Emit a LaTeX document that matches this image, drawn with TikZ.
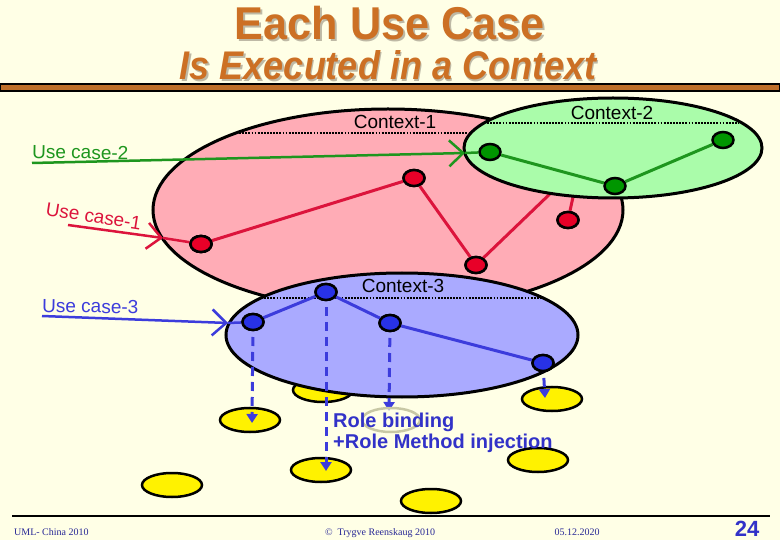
\documentclass[tikz,border=0pt]{standalone}
\usepackage{fontspec}
\setmainfont{Liberation Sans}
\newfontfamily\footserif{Liberation Serif}
\usetikzlibrary{arrows.meta,shapes.geometric}
\definecolor{bg}{RGB}{255,255,230}
\definecolor{titlec}{RGB}{204,112,36}
\definecolor{shadowc}{RGB}{190,185,165}
\definecolor{barc}{RGB}{190,110,40}
\definecolor{pinkc}{RGB}{255,172,182}
\definecolor{greenc}{RGB}{170,252,170}
\definecolor{bluec}{RGB}{170,170,255}
\definecolor{rednode}{RGB}{232,0,40}
\definecolor{redline}{RGB}{220,20,60}
\definecolor{greennode}{RGB}{0,150,0}
\definecolor{greenline}{RGB}{30,150,30}
\definecolor{bluenode}{RGB}{40,50,230}
\definecolor{blueline}{RGB}{60,60,220}
\definecolor{textblue}{RGB}{50,50,200}
\definecolor{footc}{RGB}{40,40,150}
\definecolor{fadec}{RGB}{200,200,165}
\begin{document}
\begin{tikzpicture}[x=1pt,y=-1pt,
  ctx/.style={ellipse, draw=black, line width=3pt, inner sep=0pt},
  role/.style={ellipse, draw=black, line width=2.5pt, inner sep=0pt, minimum width=21pt, minimum height=16pt},
  obj/.style={ellipse, draw=black, line width=2.5pt, fill=yellow, inner sep=0pt, minimum width=60pt, minimum height=24pt},
  dotline/.style={line width=2.6pt, dash pattern=on 1.8pt off 1.3pt},
  ctxlabel/.style={font=\fontsize{19}{22}\selectfont, inner sep=0pt},
  uclabel/.style={font=\fontsize{19}{22}\selectfont, anchor=base west, inner sep=0pt},
  ucarrow/.style={line width=2.5pt, -{Straight Barb[length=14pt,width=26pt]}},
  roleedge/.style={line width=3pt},
  bind/.style={draw=blueline, line width=3pt, dash pattern=on 9pt off 6pt, -{Triangle[length=9pt,width=11pt]}},
  foot/.style={font=\footserif\fontsize{10}{12}\selectfont, text=footc, inner sep=0pt, anchor=base},
]
\useasboundingbox (0,0) rectangle (780,540);
\fill[bg] (0,0) rectangle (780,540);

% title
\node[font=\bfseries\fontsize{46}{50}\selectfont, text=shadowc, xscale=0.94, anchor=base, inner sep=0pt] (t1s) at (391.5,41.5) {Each Use Case};
\node[font=\bfseries\fontsize{46}{50}\selectfont, text=titlec, xscale=0.94, anchor=base, inner sep=0pt] (t1) at (390,40) {Each Use Case};
\node[font=\bfseries\itshape\fontsize{40}{44}\selectfont, text=shadowc, xscale=0.9, anchor=base, inner sep=0pt] (t2s) at (389.5,81.5) {Is Executed in a Context};
\node[font=\bfseries\itshape\fontsize{40}{44}\selectfont, text=titlec, xscale=0.9, anchor=base, inner sep=0pt] (t2) at (388,80) {Is Executed in a Context};
\draw[fill=barc, draw=black, line width=1.5pt] (0,84) rectangle (780,91);

% objects (yellow)
\node[obj] (o1) at (250,420) {};
\node[obj] (o2) at (323,390) {};
\node[obj] (o4) at (321,470) {};
\node[obj] (o5) at (552,399) {};
\node[obj] (o6) at (538,460) {};
\node[obj] (o7) at (172,485) {};
\node[obj] (o8) at (431,501) {};

% Context-1
\node[ctx, fill=pinkc, minimum width=470pt, minimum height=202pt] (c1) at (388,210) {};
\draw[dotline] (236,133) -- (520,133);
\node[ctxlabel] (c1l) at (395,122) {Context-1};

% red roles
\coordinate (rh) at (580,165);
\node[role, fill=rednode] (r1) at (201,244) {};
\node[role, fill=rednode] (r2) at (414,178) {};
\node[role, fill=rednode] (r3) at (476,265) {};
\node[role, fill=rednode] (r4) at (568,220) {};
\draw[redline, roleedge] (r1) -- (r2);
\draw[redline, roleedge] (r2) -- (r3);
\draw[redline, roleedge] (r3) -- (rh);
\draw[redline, roleedge] (r4) -- (rh);
\node[role, fill=rednode] at (r1) {};
\node[role, fill=rednode] at (r2) {};
\node[role, fill=rednode] at (r3) {};
\node[role, fill=rednode] at (r4) {};

% Context-2
\node[ctx, fill=greenc, minimum width=298pt, minimum height=100pt] (c2) at (613,148) {};
\draw[dotline] (487,123) -- (739,123);
\node[ctxlabel] (c2l) at (612,113) {Context-2};
\node[role, fill=greennode] (g1) at (490,152) {};
\node[role, fill=greennode] (g2) at (615,186) {};
\node[role, fill=greennode] (g3) at (723,140) {};
\draw[greenline, roleedge] (g1) -- (g2);
\draw[greenline, roleedge] (g2) -- (g3);

% use case arrows
\coordinate (gs) at (32,163);
\coordinate (gt) at (465,153);
\draw[greenline, ucarrow] (gs) -- (gt);
\draw[greenline, line width=2.5pt] (gt) -- (g1);
\node[uclabel, text=greenline, rotate=-1] (uc2) at (32,158) {Use case-2};

\coordinate (rs) at (68,225);
\coordinate (rt) at (163,238);
\draw[redline, ucarrow] (rs) -- (rt);
\draw[redline, line width=2.5pt] (rt) -- (r1);
\node[role, fill=rednode] at (r1) {};
\node[uclabel, text=redline, rotate=-9] (uc1) at (45,215) {Use case-1};

% Context-3
\node[ctx, fill=bluec, minimum width=352pt, minimum height=124pt] (c3) at (402,335) {};
\draw[dotline] (261,298) -- (543,298);
\node[ctxlabel] (c3l) at (403,286) {Context-3};
\node[role, fill=bluenode] (b1) at (253,322) {};
\node[role, fill=bluenode] (b2) at (326,292) {};
\node[role, fill=bluenode] (b3) at (390,323) {};
\node[role, fill=bluenode] (b4) at (543,363) {};
\draw[blueline, roleedge] (b1) -- (b2);
\draw[blueline, roleedge] (b2) -- (b3);
\draw[blueline, roleedge] (b3) -- (b4);

\coordinate (bs) at (42,316);
\coordinate (bt) at (228,323);
\draw[blueline, ucarrow] (bs) -- (bt);
\draw[blueline, line width=2.5pt] (bt) -- (b1);
\node[uclabel, text=blueline, rotate=-1] (uc3) at (42,312) {Use case-3};

% role binding
\coordinate (d1) at (252,423);
\coordinate (d2) at (326,471);
\coordinate (d3) at (389,411);
\coordinate (d4) at (545,398);
\draw[bind] (b1.center) -- (d1);
\draw[bind] (b2.center) -- (d2);
\draw[bind] (b3.center) -- (d3);
\draw[bind] (b4.center) -- (d4);
\node[role, fill=bluenode] at (b1) {};
\node[role, fill=bluenode] at (b2) {};
\node[role, fill=bluenode] at (b3) {};
\node[role, fill=bluenode] at (b4) {};

\node[ellipse, draw=fadec, line width=2.5pt, fill=bg, fill opacity=0.6, inner sep=0pt, minimum width=58pt, minimum height=24pt] (o3) at (391,420) {};

\node[font=\bfseries\fontsize{20}{24}\selectfont, text=textblue, anchor=base west, inner sep=0pt] (rb1) at (333,427) {Role binding};
\node[font=\bfseries\fontsize{20}{24}\selectfont, text=textblue, anchor=base west, inner sep=0pt] (rb2) at (333,448) {+Role Method injection};

% footer
\draw[line width=2pt] (12,516) -- (770,516);
\node[foot, anchor=base west] (f1) at (14,535) {UML- China 2010};
\node[foot] (f2) at (380,535) {\char"00A9\ \ Trygve Reenskaug 2010};
\node[foot] (f3) at (577,535) {05.12.2020};
\node[font=\bfseries\fontsize{22}{26}\selectfont, text=textblue, anchor=base, inner sep=0pt] (pg) at (747,536) {24};
\end{tikzpicture}
\end{document}
